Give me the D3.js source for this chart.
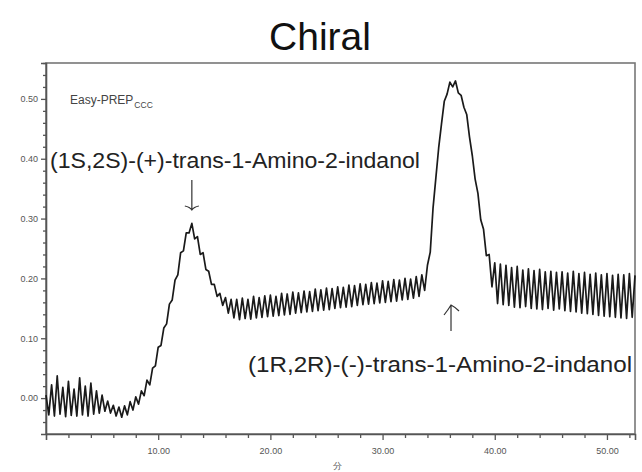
<!DOCTYPE html>
<html><head><meta charset="utf-8">
<script src="https://cdn.jsdelivr.net/npm/d3@7/dist/d3.min.js"></script>
<style>
html,body{margin:0;padding:0;background:#fff;}
svg{display:block;}
text{font-family:"Liberation Sans",Arial,sans-serif;}
</style></head>
<body>
<svg id="chart" width="642" height="472"></svg>
<script>
// ---- data ----
const title = "Chiral";
const xUnitLabel = "分";
const instrumentLabel = "Easy-PREP";
const instrumentSub = "CCC";
const peakLabels = ["(1S,2S)-(+)-trans-1-Amino-2-indanol", "(1R,2R)-(-)-trans-1-Amino-2-indanol"];
const peakTimes = [13.0, 36.1];
const xTickValues = [10, 20, 30, 40, 50];
const xTickLabels = ["10.00", "20.00", "30.00", "40.00", "50.00"];
const yTickValues = [0, 0.1, 0.2, 0.3, 0.4, 0.5];
const yTickLabels = ["0.00", "0.10", "0.20", "0.30", "0.40", "0.50"];
const xDomain = [0, 52.5];
const yDomain = [-0.06, 0.56];
const sampleInterval = 0.25; // minutes between detector readings
const absorbance = [
 0.005,-0.028,0.022,-0.030,0.037,-0.027,0.018,-0.031,0.028,-0.029,
 0.015,-0.030,0.034,-0.028,0.020,-0.030,0.025,-0.027,0.012,-0.025,
 0.005,-0.022,-0.005,-0.025,-0.012,-0.030,-0.015,-0.032,-0.013,-0.028,
 -0.006,-0.020,0.002,-0.010,0.012,0.004,0.030,0.022,0.050,0.054,
 0.085,0.088,0.117,0.124,0.157,0.164,0.197,0.206,0.243,0.246,
 0.276,0.276,0.292,0.266,0.270,0.240,0.243,0.215,0.212,0.190,
 0.190,0.170,0.175,0.155,0.168,0.142,0.165,0.134,0.165,0.131,
 0.167,0.133,0.165,0.132,0.170,0.134,0.168,0.135,0.171,0.136,
 0.172,0.137,0.170,0.138,0.175,0.139,0.174,0.140,0.177,0.142,
 0.176,0.143,0.179,0.144,0.178,0.145,0.182,0.146,0.181,0.147,
 0.184,0.148,0.183,0.150,0.186,0.151,0.185,0.152,0.189,0.153,
 0.188,0.155,0.191,0.156,0.190,0.157,0.193,0.158,0.192,0.159,
 0.196,0.160,0.195,0.161,0.198,0.162,0.197,0.164,0.200,0.165,
 0.199,0.167,0.203,0.170,0.206,0.180,0.222,0.244,0.318,0.368,
 0.418,0.458,0.496,0.508,0.528,0.520,0.530,0.510,0.506,0.486,
 0.474,0.436,0.405,0.366,0.342,0.298,0.282,0.238,0.240,0.186,
 0.226,0.158,0.224,0.156,0.222,0.155,0.218,0.152,0.220,0.151,
 0.214,0.153,0.216,0.150,0.213,0.149,0.215,0.148,0.211,0.150,
 0.212,0.147,0.210,0.149,0.211,0.146,0.209,0.145,0.212,0.144,
 0.208,0.142,0.210,0.141,0.207,0.140,0.209,0.138,0.206,0.137,
 0.208,0.136,0.205,0.135,0.207,0.134,0.206,0.133,0.208,0.135,
 0.205
];

// ---- layout ----
const svg = d3.select("#chart");
const x = d3.scaleLinear().domain(xDomain).range([46, 635]);
const y = d3.scaleLinear().domain(yDomain).range([434, 63]);

// title
svg.append("text").attr("x", 320).attr("y", 50).attr("text-anchor", "middle")
  .attr("font-size", 39).attr("fill", "#111").text(title);

// frame (top/right)
svg.append("rect").attr("x", x.range()[0]).attr("y", y.range()[1])
  .attr("width", x.range()[1] - x.range()[0]).attr("height", y.range()[0] - y.range()[1])
  .attr("fill", "none").attr("stroke", "#777").attr("stroke-width", 1.6);

// axes
const xMinor = d3.range(2, 53, 2).filter(v => v % 10 !== 0);
const yMinor = d3.range(-0.04, 0.56, 0.02).map(v => +v.toFixed(2)).filter(v => Math.abs(v*10 - Math.round(v*10)) > 1e-6);

const gx = svg.append("g").attr("transform", `translate(0,${y.range()[0]})`);
gx.call(d3.axisBottom(x).tickValues(xMinor).tickSize(4).tickFormat(""));
gx.call(g => g.select(".domain").remove());
const gx2 = svg.append("g").attr("transform", `translate(0,${y.range()[0]})`);
gx2.call(d3.axisBottom(x).tickValues(xTickValues).tickSize(6).tickPadding(8)
  .tickFormat((d, i) => xTickLabels[i]));
gx2.select(".domain").attr("stroke", "#555").attr("stroke-width", 1.6);
[gx, gx2].forEach(g => g.selectAll(".tick line").attr("stroke", "#555").attr("stroke-width", 1.3));
gx2.selectAll(".tick text").attr("font-size", 9).attr("fill", "#555");

const gy = svg.append("g").attr("transform", `translate(${x.range()[0]},0)`);
gy.call(d3.axisLeft(y).tickValues(yMinor).tickSize(3).tickFormat(""));
gy.call(g => g.select(".domain").remove());
const gy2 = svg.append("g").attr("transform", `translate(${x.range()[0]},0)`);
gy2.call(d3.axisLeft(y).tickValues(yTickValues).tickSize(5).tickPadding(3)
  .tickFormat((d, i) => yTickLabels[i]));
gy2.select(".domain").attr("stroke", "#555").attr("stroke-width", 1.6);
[gy, gy2].forEach(g => g.selectAll(".tick line").attr("stroke", "#555").attr("stroke-width", 1.3));
gy2.selectAll(".tick text").attr("font-size", 9).attr("fill", "#555");

// x unit label
svg.append("text").attr("x", x(26.0)).attr("y", 469).attr("text-anchor", "middle")
  .attr("font-size", 9).attr("fill", "#555")
  .attr("font-family", "'Noto Sans CJK JP','Noto Sans CJK SC',sans-serif").text(xUnitLabel);

// trace
const points = absorbance.map((v, i) => [i * sampleInterval, v]);
const line = d3.line().x(d => x(d[0])).y(d => y(d[1]));
svg.append("path").datum(points).attr("d", line)
  .attr("fill", "none").attr("stroke", "#1a1a1a").attr("stroke-width", 1.7)
  .attr("stroke-linejoin", "round");

// instrument label
const it = svg.append("text").attr("x", 70).attr("y", 104).attr("font-size", 12).attr("fill", "#444");
it.append("tspan").text(instrumentLabel);
it.append("tspan").attr("font-size", 8.5).attr("dy", 4).attr("dx", 1).text(instrumentSub);

// peak labels
svg.append("text").attr("x", 50).attr("y", 168).attr("font-size", 22).attr("fill", "#222")
  .attr("textLength", 370).attr("lengthAdjust", "spacingAndGlyphs").text(peakLabels[0]);
svg.append("text").attr("x", 248).attr("y", 372).attr("font-size", 22).attr("fill", "#222")
  .attr("textLength", 384).attr("lengthAdjust", "spacingAndGlyphs").text(peakLabels[1]);

// arrows
const ax1 = x(peakTimes[0]);
svg.append("path").attr("d", `M${ax1},180 L${ax1},209 M${ax1-7},206 Q${ax1-2},207 ${ax1},210 Q${ax1+2},207 ${ax1+7},206`)
  .attr("fill", "none").attr("stroke", "#333").attr("stroke-width", 1.2);
const ax2 = x(peakTimes[1]);
svg.append("path").attr("d", `M${ax2},331 L${ax2},306 M${ax2-7},315 Q${ax2-3},310 ${ax2},305 Q${ax2+4},307 ${ax2+8},311`)
  .attr("fill", "none").attr("stroke", "#333").attr("stroke-width", 1.2);
</script>
</body></html>
